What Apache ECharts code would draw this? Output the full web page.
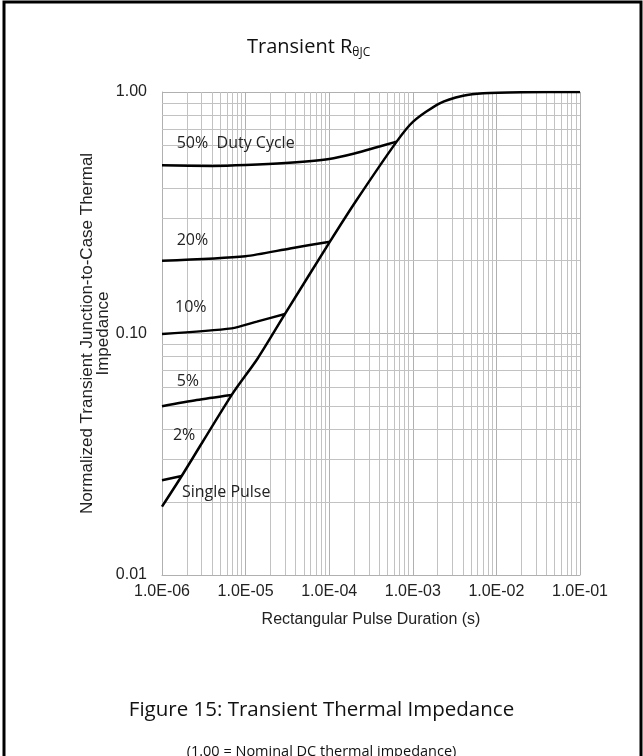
<!DOCTYPE html>
<html><head><meta charset="utf-8">
<script src="https://cdn.jsdelivr.net/npm/echarts@6/dist/echarts.min.js"></script>
<style>html,body{margin:0;padding:0;background:#fff}#c{width:643px;height:756px}</style>
</head><body><div id="c"></div>
<script>
// ---- data ----
const xTickLabels = ['1.0E-06','1.0E-05','1.0E-04','1.0E-03','1.0E-02','1.0E-01'];
const yTickLabels = ['0.01','0.10','1.00'];
const singlePulse = [[1e-6,0.0192],[1.72e-6,0.0257],[6.8e-6,0.0556],[1.4e-5,0.079],[2.96e-5,0.1205],[1.02e-4,0.240],[2.13e-4,0.357],[6.41e-4,0.623],[1.01e-3,0.754],[2.1e-3,0.898],[4e-3,0.965],[7e-3,0.988],[2e-2,0.997],[1e-1,1.0]];
const duty50 = [[1e-6,0.497],[4e-6,0.494],[1e-5,0.498],[3e-5,0.508],[1e-4,0.528],[2e-4,0.556],[4e-4,0.595],[6.41e-4,0.623]];
const duty20 = [[1e-6,0.200],[1e-5,0.209],[3.4e-5,0.225],[1.02e-4,0.240]];
const duty10 = [[1e-6,0.0995],[6.8e-6,0.105],[1.36e-5,0.112],[2.96e-5,0.1205]];
const duty5  = [[1e-6,0.050],[2.6e-6,0.053],[6.8e-6,0.0556]];
const duty2  = [[1e-6,0.0247],[1.72e-6,0.0257]];
const curveLabels = [
  {text:'50%  Duty Cycle', at:[1.5e-6,0.613]},
  {text:'20%', at:[1.5e-6,0.244]},
  {text:'10%', at:[1.43e-6,0.1276]},
  {text:'5%', at:[1.5e-6,0.0632]},
  {text:'2%', at:[1.35e-6,0.038]},
  {text:'Single Pulse', at:[1.73e-6,0.0219]}
];
const xMinor = [], yMinor = [];
for (let d=-6; d<-1; d++) for (let k=2;k<=9;k++) xMinor.push(k*Math.pow(10,d));
for (let d=-2; d<0; d++) for (let k=2;k<=9;k++) yMinor.push(k*Math.pow(10,d));

const chart = echarts.init(document.getElementById('c'));
const gridCol = '#b0b0b0';
const minorCol = '#c2c2c2';
const lineStyle = {color:'#000', width:2.5};
function mk(name, data){
  return {name, type:'line', data, symbol:'none', smooth:0.25, lineStyle, z:5};
}
function crisp(v){ return Math.round(v - 0.5) + 0.5; }
chart.setOption({
  animation:false,
  backgroundColor:'#fff',
  grid:{left:162, right:63, top:92, bottom:181},
  xAxis:{type:'log', logBase:10, min:1e-6, max:1e-1,
    name:'Rectangular Pulse Duration (s)', nameLocation:'middle', nameGap:37,
    nameTextStyle:{fontFamily:'Liberation Sans', fontSize:16, color:'#222'},
    axisLine:{show:true, lineStyle:{color:gridCol}}, axisTick:{show:false},
    axisLabel:{fontFamily:'Liberation Sans', fontSize:16, color:'#222', margin:9,
      formatter:v=>xTickLabels[Math.round(Math.log10(v))+6]},
    splitLine:{show:true, lineStyle:{color:gridCol, width:1}}},
  yAxis:{type:'log', logBase:10, min:0.01, max:1,
    name:'Normalized Transient Junction-to-Case Thermal\nImpedance', nameLocation:'middle', nameGap:51,
    nameMoveOverlap:false,
    nameTextStyle:{fontFamily:'Liberation Sans', fontSize:17, color:'#222', lineHeight:16},
    axisLine:{show:true, lineStyle:{color:gridCol}}, axisTick:{show:false},
    axisLabel:{fontFamily:'Liberation Sans', fontSize:16, color:'#222', margin:15,
      formatter:v=>yTickLabels[Math.round(Math.log10(v))+2]},
    splitLine:{show:true, lineStyle:{color:gridCol, width:1}}},
  series:[
    {type:'custom', silent:true, z:1, data:xMinor.map(v=>[v,0.1]),
      renderItem:(p,api)=>{
        const v=api.value(0); const a=api.coord([v,1]); const b=api.coord([v,0.01]);
        const x=crisp(a[0]);
        return {type:'line', shape:{x1:x,y1:a[1],x2:x,y2:b[1]}, style:{stroke:minorCol, lineWidth:1}};
      }},
    {type:'custom', silent:true, z:1, data:yMinor.map(v=>[1e-3,v]),
      renderItem:(p,api)=>{
        const v=api.value(1); const a=api.coord([1e-6,v]); const b=api.coord([1e-1,v]);
        const y=crisp(a[1]);
        return {type:'line', shape:{x1:a[0],y1:y,x2:b[0],y2:y}, style:{stroke:minorCol, lineWidth:1}};
      }},
    mk('single', singlePulse),
    mk('50', duty50), mk('20', duty20), mk('10', duty10), mk('5', duty5), mk('2', duty2),
    {type:'scatter', data:[], z:6,
      markPoint:{symbol:'circle', symbolSize:0, silent:true,
        label:{show:true, position:'right', distance:0, fontFamily:'Open Sans', fontSize:16, color:'#222'},
        data: curveLabels.map(l=>({coord:l.at, value:l.text, label:{formatter:l.text}}))}}
  ],
  graphic:[
    {type:'rect', shape:{x:4, y:2, width:637, height:800}, style:{fill:'none', stroke:'#000', lineWidth:3}, silent:true},
    {type:'text', left:247, top:37, style:{
      text:'Transient R{s|θJC}', fontFamily:'Open Sans', fontSize:20, fill:'#111',
      rich:{s:{fontSize:12, fontFamily:'Open Sans', padding:[11,0,0,0], fill:'#111'}}}},
    {type:'text', left:'center', top:700, style:{text:'Figure 15: Transient Thermal Impedance', fontFamily:'Open Sans', fontSize:20.5, fill:'#111'}},
    {type:'text', left:'center', top:744, style:{text:'(1.00 = Nominal DC thermal impedance)', fontFamily:'Open Sans', fontSize:14.5, fill:'#111'}}
  ]
});
</script></body></html>
